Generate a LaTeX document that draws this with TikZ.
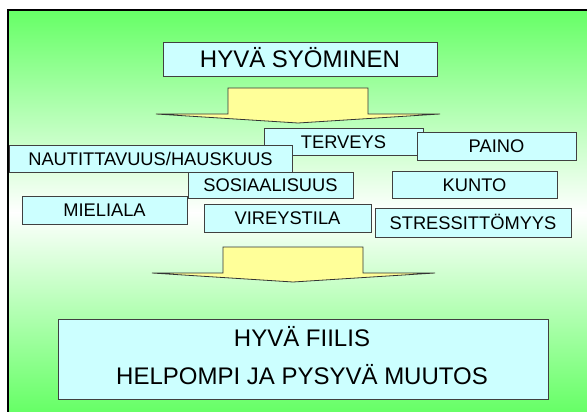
\documentclass[tikz,border=0pt]{standalone}
\usepackage{fontspec}
\setmainfont{Liberation Sans}
\definecolor{slidegreen}{RGB}{102,255,102}
\definecolor{boxcyan}{RGB}{204,255,255}
\definecolor{arrowyellow}{RGB}{255,255,153}
\definecolor{edgegray}{RGB}{64,64,64}
\tikzset{
  lbox/.style={draw=edgegray, line width=0.8pt, fill=boxcyan, rectangle, inner sep=0pt,
    font=\fontsize{18.3}{20}\selectfont, text height=13.1pt, text depth=0pt},
  bigtext/.style={inner sep=0pt, font=\fontsize{24}{27}\selectfont, text height=17.2pt, text depth=0pt},
  blockarrow/.style={draw=black!80, line width=0.8pt, fill=arrowyellow, line join=miter}
}
\begin{document}
\begin{tikzpicture}[x=1pt,y=-1pt]
\useasboundingbox (0,0) rectangle (587,412);
% background
\fill[white] (0,0) rectangle (587,412);
\shade[top color=slidegreen, bottom color=white] (8,10) rectangle (587,213);
\shade[top color=white, bottom color=slidegreen] (8,212) rectangle (587,412);
\draw[black, line width=2.5pt] (8,413) -- (8,10) -- (588,10);
% top box
\node[lbox, minimum width=274pt, minimum height=34pt, bigtext] (eat) at (300,59) {HYVÄ SYÖMINEN};
% arrow 1
\draw[blockarrow] (228,88) -- (368,88) -- (368,114) -- (440,114) -- (298,123) -- (156,114) -- (228,114) -- cycle;
% middle boxes
\node[lbox, minimum width=159pt, minimum height=27pt] (terveys) at (343.5,141.5) {TERVEYS};
\node[lbox, minimum width=159pt, minimum height=28pt] (paino) at (496.5,146) {PAINO};
\node[lbox, minimum width=283pt, minimum height=27pt] (naut) at (150.5,158.5) {NAUTITTAVUUS/HAUSKUUS};
\node[lbox, minimum width=165pt, minimum height=26pt] (sosi) at (270.5,185) {SOSIAALISUUS};
\node[lbox, minimum width=165pt, minimum height=27pt] (kunto) at (474.5,184.5) {KUNTO};
\node[lbox, minimum width=165pt, minimum height=28pt] (mieli) at (104.5,210) {MIELIALA};
\node[lbox, minimum width=167pt, minimum height=28pt] (vire) at (287.5,218) {VIREYSTILA};
\node[lbox, minimum width=196pt, minimum height=29pt] (stress) at (473,222.5) {STRESSITTÖMYYS};
% arrow 2
\draw[blockarrow] (223,247) -- (363,247) -- (363,273) -- (435,273) -- (293,282) -- (152,273) -- (223,273) -- cycle;
% bottom box
\node[lbox, minimum width=490pt, minimum height=80pt] (result) at (303,359) {};
\node[bigtext] (fiilis) at (302,338) {HYVÄ FIILIS};
\node[bigtext] (muutos) at (302,376) {HELPOMPI JA PYSYVÄ MUUTOS};
\end{tikzpicture}
\end{document}
